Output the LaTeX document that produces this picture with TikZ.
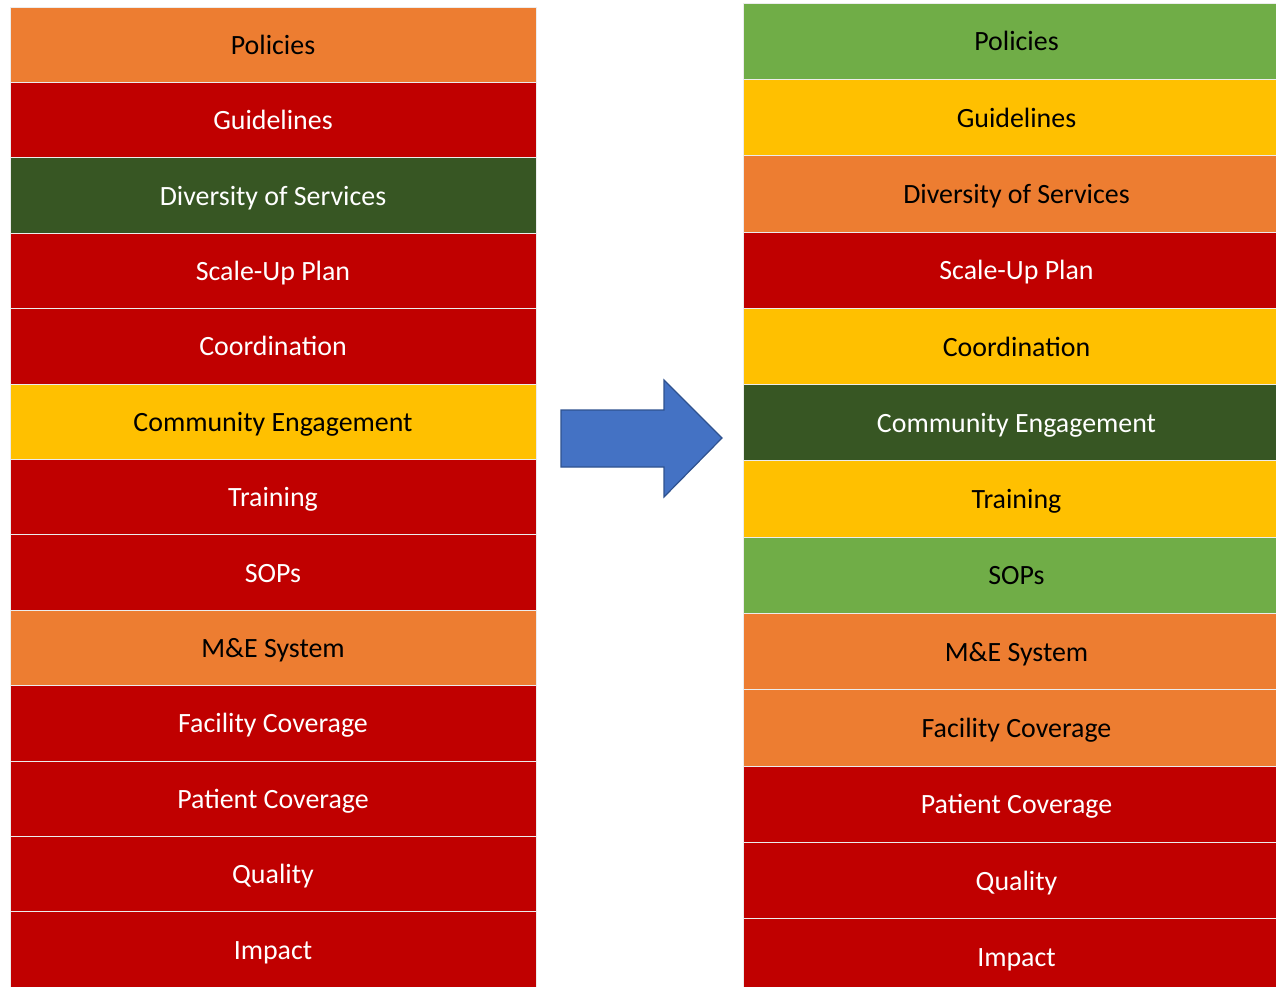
\documentclass[tikz,border=0pt]{standalone}
\usepackage{fontspec}
\setmainfont{Carlito}
\usepackage{tikz}
\usetikzlibrary{positioning}

\definecolor{poor}{HTML}{C00000}
\definecolor{weak}{HTML}{ED7D31}
\definecolor{fair}{HTML}{FFC000}
\definecolor{good}{HTML}{70AD47}
\definecolor{best}{HTML}{375623}
\definecolor{arrowblue}{HTML}{4472C4}
\definecolor{arrowedge}{HTML}{2F528F}

\begin{document}
\begin{tikzpicture}[x=1pt, y=-1pt, node distance=0pt,
  cell/.style={rectangle, draw=white!85!gray, line width=0.8pt, inner sep=0pt, outer sep=0pt,
    font=\fontsize{27.9}{30}\selectfont, text=black, text height=19.3pt, text depth=0pt},
  left cell/.style={cell, minimum width=526pt, minimum height=75.4pt},
  right cell/.style={cell, minimum width=533pt, minimum height=76.3pt,
    execute at begin node={\hspace*{14pt}}},
  poor cell/.style={fill=poor, text=white},
  weak cell/.style={fill=weak},
  fair cell/.style={fill=fair},
  good cell/.style={fill=good},
  best cell/.style={fill=best, text=white}]

\clip (0,0) rectangle (1276,987);
\fill[white] (0,0) rectangle (1276,987);

% before
\node[left cell, weak cell, anchor=north west] (L1) at (10,7) {Policies};
\node[left cell, poor cell] (L2) [below=of L1] {Guidelines};
\node[left cell, best cell] (L3) [below=of L2] {Diversity of Services};
\node[left cell, poor cell] (L4) [below=of L3] {Scale-Up Plan};
\node[left cell, poor cell] (L5) [below=of L4] {Coordination};
\node[left cell, fair cell] (L6) [below=of L5] {Community Engagement};
\node[left cell, poor cell] (L7) [below=of L6] {Training};
\node[left cell, poor cell] (L8) [below=of L7] {SOPs};
\node[left cell, weak cell] (L9) [below=of L8] {M\&E System};
\node[left cell, poor cell] (L10) [below=of L9] {Facility Coverage};
\node[left cell, poor cell] (L11) [below=of L10] {Patient Coverage};
\node[left cell, poor cell] (L12) [below=of L11] {Quality};
\node[left cell, poor cell] (L13) [below=of L12] {Impact};

% after
\node[right cell, good cell, anchor=north west] (R1) at (743,3) {Policies};
\node[right cell, fair cell] (R2) [below=of R1] {Guidelines};
\node[right cell, weak cell] (R3) [below=of R2] {Diversity of Services};
\node[right cell, poor cell] (R4) [below=of R3] {Scale-Up Plan};
\node[right cell, fair cell] (R5) [below=of R4] {Coordination};
\node[right cell, best cell] (R6) [below=of R5] {Community Engagement};
\node[right cell, fair cell] (R7) [below=of R6] {Training};
\node[right cell, good cell] (R8) [below=of R7] {SOPs};
\node[right cell, weak cell] (R9) [below=of R8] {M\&E System};
\node[right cell, weak cell] (R10) [below=of R9] {Facility Coverage};
\node[right cell, poor cell] (R11) [below=of R10] {Patient Coverage};
\node[right cell, poor cell] (R12) [below=of R11] {Quality};
\node[right cell, poor cell] (R13) [below=of R12] {Impact};

% block arrow
\filldraw[fill=arrowblue, draw=arrowedge, line width=1.2pt, line join=miter]
  (561,410) -- (664,410) -- (664,380) -- (722,438) -- (664,497) -- (664,467) -- (561,467) -- cycle;

\end{tikzpicture}
\end{document}
